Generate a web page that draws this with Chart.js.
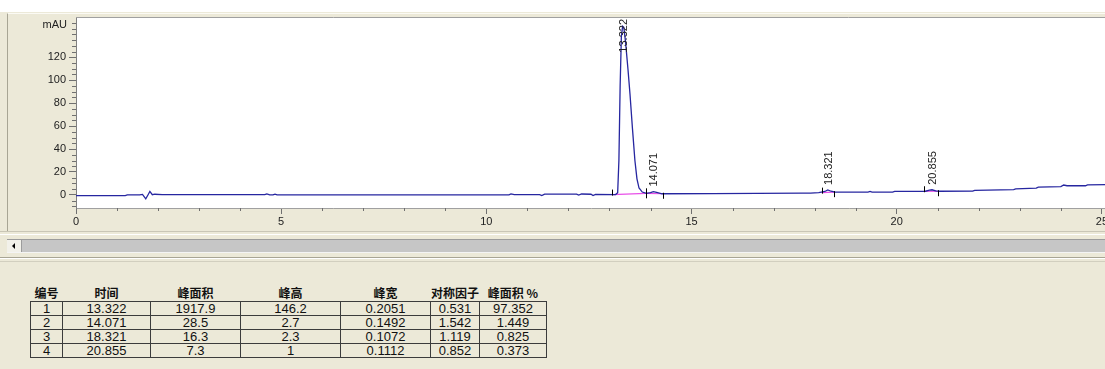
<!DOCTYPE html>
<html lang="zh">
<head>
<meta charset="UTF-8">
<title>色谱图</title>
<script src="https://cdn.jsdelivr.net/npm/chart.js"></script>
<style>
  body {
    margin: 0;
    width: 1105px;
    height: 369px;
    background: #ECE9D8;
    position: relative;
    overflow: hidden;
    font-family: Arial, sans-serif;
  }
  #topstrip { position: absolute; left: 0; top: 0; width: 1105px; height: 12px; background: #fff; }
  #panel {
    position: absolute; left: 7px; top: 13px; width: 1098px; height: 219px;
    border-top: 1px solid #fbfaf4; border-left: 1px solid #a8a594; box-sizing: border-box;
  }
  #panelBottom { position: absolute; left: 0; top: 231px; width: 1105px; height: 2px; border-top: 1px solid #c9c6b6; border-bottom: 1px solid #fff; }
  #chart { position: absolute; left: -1px; top: -1px; }
  #scroll {
    position: absolute; left: 7px; top: 239px; width: 1098px; height: 14px;
    background: #c6c6c6; border-top: 1px solid #9c9c9c; border-bottom: 1px solid #f4f4f4; box-sizing: border-box;
  }
  #arrow {
    position: absolute; left: 0; top: 0; width: 15px; height: 12px;
    background: #f2f1ea; border-right: 1px solid #9c9c9c; box-sizing: border-box;
  }
  #arrow::after {
    content: ""; position: absolute; left: 5px; top: 3px;
    border-top: 3px solid transparent; border-bottom: 3px solid transparent; border-right: 3px solid #000;
  }
  #sep1 { position: absolute; left: 0; top: 257px; width: 1105px; height: 1px; background: #a8a594; }
  #sep2 { position: absolute; left: 0; top: 258px; width: 1105px; height: 1px; background: #fff; }
  #sep3 { position: absolute; left: 0; top: 261px; width: 1105px; height: 1px; background: #d2cfbf; }
  #tbl {
    position: absolute; left: 30px; top: 284px;
    border-collapse: collapse; table-layout: fixed;
    font-family: "Liberation Sans Narrow", Arial, sans-serif;
    font-size: 13px; color: #111;
  }
  #tbl th {
    font-family: "Noto Sans CJK SC", sans-serif; font-weight: bold; font-size: 12px;
    height: 17px; padding: 0; text-align: center; border: none; line-height: 17px; white-space: nowrap;
  }
  #tbl td {
    height: 13px; padding: 0; text-align: center; border: 1px solid #3c3c3c; line-height: 13px;
  }
</style>
</head>
<body>
<div id="topstrip"></div>
<div id="panel"><canvas id="chart" width="1099" height="220"></canvas></div>
<div id="panelBottom"></div>
<div id="scroll"><div id="arrow"></div></div>
<div id="sep1"></div><div id="sep2"></div><div id="sep3"></div>
<table id="tbl"><thead><tr id="head"></tr></thead><tbody id="body"></tbody></table>

<script>
  // 色谱信号（时间 min, 响应 mAU）
  const sigTime  = [0.00, 1.20, 1.25, 1.55, 1.62, 1.70, 1.76, 1.80, 1.86, 1.92, 2.10,
                    4.60, 4.65, 4.72, 4.80, 4.85, 4.90, 10.55, 10.60, 10.68, 11.30, 11.35, 11.42,
                    12.20, 12.25, 12.32, 12.55, 12.60, 12.66, 13.15, 13.20, 13.23, 13.26, 13.29,
                    13.32, 13.35, 13.39, 13.45, 13.50, 13.56, 13.62, 13.67, 13.72, 13.80, 13.90,
                    14.00, 14.07, 14.15, 14.28, 15.50, 17.70, 17.90, 18.10, 18.25, 18.32, 18.40,
                    18.50, 19.30, 19.35, 19.40, 19.90, 19.95, 20.70, 20.80, 20.86, 20.95, 21.05,
                    21.85, 21.90, 22.85, 22.90, 23.40, 23.45, 24.00, 24.07, 24.15, 24.60, 24.65, 25.10];
  const sigValue = [-0.6, -0.6, 0.0, 0.1, 0.5, -3.4, 0.4, 3.0, 0.2, 0.6, 0.3,
                    0.2, 0.9, 0.0, 0.0, 0.7, 0.1, 0.1, 0.9, 0.2, 0.2, -0.6, 0.7,
                    0.7, -0.1, 0.8, 0.6, -0.5, 0.4, 0.3, 2, 30, 95, 138,
                    147, 146, 134, 110, 88, 58, 30, 14, 6, 2.5, 1.4,
                    2.0, 2.9, 2.2, 1.0, 1.1, 1.5, 1.6, 2.0, 3.0, 4.3, 3.2,
                    2.4, 2.4, 3.0, 2.4, 2.5, 3.1, 3.2, 4.2, 4.5, 3.5, 3.2,
                    3.3, 4.0, 4.6, 5.2, 6.0, 6.8, 7.2, 8.6, 8.0, 8.0, 8.7, 9.0];

  // 积分基线
  const baseStart    = [13.07, 13.88, 18.17, 20.67];
  const baseEnd      = [13.88, 14.30, 18.48, 21.00];
  const baseStartVal = [0.3, 1.4, 2.0, 3.2];
  const baseEndVal   = [1.4, 1.0, 2.4, 3.2];

  // 坐标刻度
  const xTickValues = [0, 5, 10, 15, 20, 25];
  const yTickValues = [0, 20, 40, 60, 80, 100, 120];
  const yUnit = 'mAU';

  // 峰表
  const colNames   = ['编号', '时间', '峰面积', '峰高', '峰宽', '对称因子', '峰面积 %'];
  const colWidths  = [32, 88, 90, 100, 90, 49, 67];
  const peakNo     = [1, 2, 3, 4];
  const peakTime   = [13.322, 14.071, 18.321, 20.855];
  const peakArea   = [1917.9, 28.5, 16.3, 7.3];
  const peakHeight = [146.2, 2.7, 2.3, 1];
  const peakWidth  = [0.2051, 0.1492, 0.1072, 0.1112];
  const symmetry   = [0.531, 1.542, 1.119, 0.852];
  const areaPct    = [97.352, 1.449, 0.825, 0.373];

  // 表格
  const head = document.getElementById('head');
  colNames.forEach((n, i) => {
    const th = document.createElement('th');
    th.textContent = n;
    th.style.width = colWidths[i] + 'px';
    head.appendChild(th);
  });
  const body = document.getElementById('body');
  peakNo.forEach((n, i) => {
    const tr = document.createElement('tr');
    [n, peakTime[i], peakArea[i], peakHeight[i], peakWidth[i], symmetry[i], areaPct[i]].forEach(v => {
      const td = document.createElement('td');
      td.textContent = v;
      tr.appendChild(td);
    });
    body.appendChild(tr);
  });

  const signal = sigTime.map((t, i) => ({ x: t, y: sigValue[i] }));
  const baseSets = baseStart.map((s, i) => ({
    data: [{ x: s, y: baseStartVal[i] }, { x: baseEnd[i], y: baseEndVal[i] }],
    borderColor: '#e850e8',
    borderWidth: 1.2,
    pointRadius: 0
  }));

  // 白色绘图区 + 次刻度 + 峰标签 + 基线标记
  const chromPlugin = {
    id: 'chrom',
    beforeDraw(chart) {
      const { ctx, chartArea: a } = chart;
      ctx.save();
      ctx.fillStyle = '#fff';
      ctx.fillRect(a.left, a.top, a.right - a.left, a.bottom - a.top);
      ctx.strokeStyle = '#a0a0a0';
      ctx.beginPath();
      ctx.moveTo(a.left, a.top - 0.5);
      ctx.lineTo(a.right, a.top - 0.5);
      ctx.stroke();
      ctx.restore();
    },
    afterDraw(chart) {
      const { ctx, chartArea: a } = chart;
      const xs = chart.scales.x, ys = chart.scales.y;
      ctx.save();
      ctx.strokeStyle = '#707070';
      ctx.lineWidth = 1;
      ctx.beginPath();
      for (let v = 0; v <= 25; v++) {
        if (v % 5 === 0) continue;
        const px = Math.round(xs.getPixelForValue(v)) + 0.5;
        ctx.moveTo(px, a.bottom);
        ctx.lineTo(px, a.bottom + 3);
      }
      for (let v = -10; v <= 150; v += 5) {
        if (v % 20 === 0 && v <= 120 && v >= 0) continue;
        const py = Math.round(ys.getPixelForValue(v)) + 0.5;
        ctx.moveTo(a.left - 4, py);
        ctx.lineTo(a.left, py);
      }
      ctx.stroke();

      // 基线起止标记
      ctx.strokeStyle = '#000';
      ctx.beginPath();
      baseStart.forEach((s, i) => {
        const x1 = Math.round(xs.getPixelForValue(s)) + 0.5;
        const y1 = ys.getPixelForValue(baseStartVal[i]);
        ctx.moveTo(x1, y1 - 5); ctx.lineTo(x1, y1 + 1);
        const x2 = Math.round(xs.getPixelForValue(baseEnd[i])) + 0.5;
        const y2 = ys.getPixelForValue(baseEndVal[i]);
        ctx.moveTo(x2, y2 - 1); ctx.lineTo(x2, y2 + 5);
      });
      ctx.stroke();

      // 单位
      ctx.fillStyle = '#222';
      ctx.font = '11px Arial';
      ctx.textAlign = 'right';
      ctx.textBaseline = 'middle';
      ctx.fillText(yUnit, a.left - 9, a.top + 7);

      // 峰保留时间标签（竖排）
      ctx.textAlign = 'left';
      peakTime.forEach(t => {
        let apex = -Infinity;
        sigTime.forEach((st, j) => { if (Math.abs(st - t) < 0.1) apex = Math.max(apex, sigValue[j]); });
        const label = t.toFixed(3);
        const w = ctx.measureText(label).width;
        const px = xs.getPixelForValue(t) + 1;
        const py = Math.max(ys.getPixelForValue(apex) - 5, a.top + w + 1);
        ctx.save();
        ctx.translate(px, py);
        ctx.rotate(-Math.PI / 2);
        ctx.fillText(label, 0, 0);
        ctx.restore();
      });
      ctx.restore();
    }
  };

  new Chart(document.getElementById('chart'), {
    type: 'line',
    data: {
      datasets: [{
        data: signal,
        borderColor: '#2626a0',
        borderWidth: 1.3,
        pointRadius: 0,
        tension: 0
      }, ...baseSets]
    },
    options: {
      responsive: false,
      animation: false,
      layout: { padding: { top: 5, right: 0, left: 0, bottom: 0 } },
      plugins: { legend: { display: false }, tooltip: { enabled: false } },
      scales: {
        x: {
          type: 'linear', min: 0, max: 25.1,
          afterBuildTicks: s => { s.ticks = xTickValues.map(v => ({ value: v })); },
          afterFit: s => { s.height = 25; s.paddingLeft = 0; s.paddingRight = 0; },
          grid: { drawOnChartArea: false, tickLength: 6, color: '#707070' },
          border: { display: true, color: '#a0a0a0' },
          ticks: { color: '#222', font: { family: 'Arial', size: 11 }, padding: 1, maxRotation: 0 }
        },
        y: {
          type: 'linear', min: -11.4, max: 154.2,
          afterBuildTicks: s => { s.ticks = yTickValues.map(v => ({ value: v })); },
          afterFit: s => { s.width = 69; s.paddingTop = 0; s.paddingBottom = 0; },
          grid: { drawOnChartArea: false, tickLength: 7, color: '#707070' },
          border: { display: true, color: '#808080' },
          ticks: { color: '#222', font: { family: 'Arial', size: 11 }, padding: 3 }
        }
      }
    },
    plugins: [chromPlugin]
  });
</script>
</body>
</html>
